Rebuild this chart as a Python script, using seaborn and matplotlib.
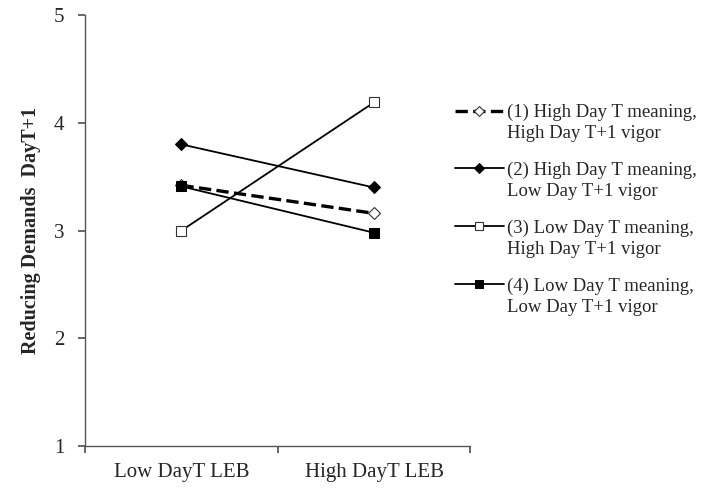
import matplotlib.pyplot as plt
import pandas as pd
import seaborn as sns
from matplotlib.offsetbox import HPacker

# Values.
conditions = ['Low DayT LEB', 'High DayT LEB']
series_names = ['(1) High Day T meaning,\nHigh Day T+1 vigor',
                '(2) High Day T meaning,\nLow Day T+1 vigor',
                '(3) Low Day T meaning,\nHigh Day T+1 vigor',
                '(4) Low Day T meaning,\nLow Day T+1 vigor']
s1 = [3.42, 3.16]
s2 = [3.80, 3.40]
s3 = [3.00, 4.19]
s4 = [3.41, 2.98]

rows = []
for name, vals in zip(series_names, [s1, s2, s3, s4]):
    for i, v in enumerate(vals):
        rows.append({'pos': i, 'Condition': conditions[i], 'Series': name, 'value': v})
data_df = pd.DataFrame(rows)

sns.set_theme(style='white')
plt.rcParams['font.family'] = ['Liberation Serif', 'DejaVu Serif']

fig = plt.figure(figsize=(7.04, 4.88), dpi=100)
ax = fig.add_axes([0.121, 0.086, 0.547, 0.883])

styles = [
    dict(linestyle='--', linewidth=2.4, marker='D', markersize=6,
         markerfacecolor='white', markeredgecolor='#333333', markeredgewidth=0.8),
    dict(linestyle='-', linewidth=1.3, marker='D', markersize=6,
         markerfacecolor='black', markeredgecolor='black'),
    dict(linestyle='-', linewidth=1.3, marker='s', markersize=7,
         markerfacecolor='white', markeredgecolor='#333333', markeredgewidth=0.8),
    dict(linestyle='-', linewidth=1.3, marker='s', markersize=7,
         markerfacecolor='black', markeredgecolor='black'),
]
for name, st in zip(series_names, styles):
    sub = data_df[data_df['Series'] == name]
    sns.lineplot(data=sub, x='pos', y='value', color='black', ax=ax,
                 label=name, **st)

ax.set_xlim(-0.5, 1.5)
ax.set_ylim(1, 5)
ax.set_yticks([1, 2, 3, 4, 5])
ax.set_xticks([-0.5, 0.5, 1.5])
ax.set_xticklabels([])
ax.set_xticks([0, 1], minor=True)
ax.set_xticklabels(conditions, minor=True, fontsize=15)
ax.tick_params(axis='x', which='minor', length=0, pad=12)
ax.tick_params(axis='x', which='major', direction='out', length=5,
               color='#555555', bottom=True)
ax.tick_params(axis='y', direction='out', length=5, color='#555555',
               labelsize=15, left=True, pad=10)
sns.despine(ax=ax)
for sp in ['left', 'bottom']:
    ax.spines[sp].set_color('#555555')
    ax.spines[sp].set_linewidth(1.0)
ax.set_xlabel('')
ax.set_ylabel('Reducing Demands  DayT+1', fontsize=14.5, fontweight='bold',
              labelpad=9)

leg = ax.legend(loc='upper left', bbox_to_anchor=(455 / 704, 1 - 104 / 488),
                bbox_transform=fig.transFigure, frameon=False,
                fontsize=13.5, handlelength=2.6, handletextpad=0.15,
                labelspacing=1.05, borderpad=0, borderaxespad=0,
                markerscale=0.8)
for t in leg.get_texts():
    t.set_linespacing(1.3)
# put each handle next to the first line of its two-line label
for hp in leg.findobj(HPacker):
    hp.align = 'top'

fig.savefig('out.png', dpi=100)
